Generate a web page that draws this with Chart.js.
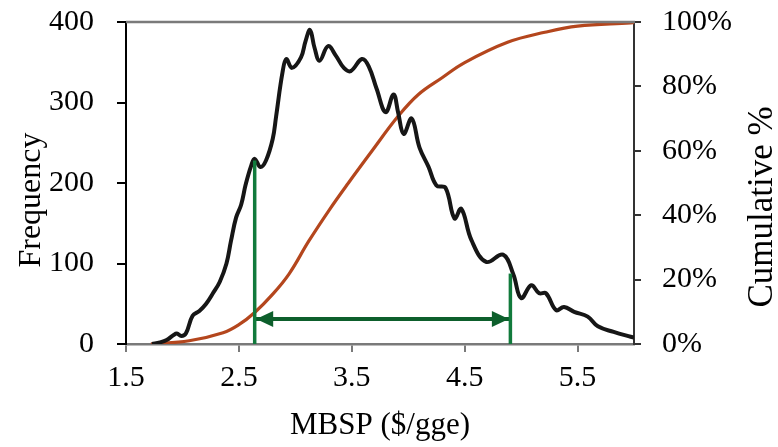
<!DOCTYPE html>
<html><head><meta charset="utf-8">
<script src="https://cdn.jsdelivr.net/npm/chart.js@4/dist/chart.umd.min.js"></script>
<style>html,body{margin:0;padding:0;background:#fff}#wrap{width:778px;height:447px;position:relative}</style>
</head><body><div id="wrap"><canvas id="c" width="778" height="447"></canvas></div>
<script>
// ---- data ----
const xTickValues = [1.5, 2.5, 3.5, 4.5, 5.5];
const freqX = [1.73,1.80,1.86,1.92,1.95,1.99,2.03,2.09,2.15,2.21,2.27,2.33,2.39,2.43,2.475,2.52,2.56,2.61,2.64,2.69,2.74,2.80,2.83,2.886,2.92,2.97,3.05,3.09,3.13,3.17,3.215,3.29,3.36,3.43,3.49,3.59,3.65,3.72,3.80,3.87,3.91,3.96,4.03,4.10,4.18,4.25,4.33,4.41,4.47,4.56,4.69,4.84,4.93,5.00,5.09,5.16,5.22,5.31,5.38,5.47,5.59,5.68,5.82,5.97,6.0];
const freqY = [0,2,5,11,13,10,13,35,41,50,63,77,100,128,157,173,198,222,230,220,228,255,283,337,354,343,356,376,390,368,352,370,358,343,339,354,345,317,288,310,288,261,280,244,220,197,194,156,168,129,102,111,87,57,73,63,63,42,46,40,34,22,15,9,8];
const cumX = [1.72,2.06,2.36,2.50,2.64,2.80,2.945,3.12,3.30,3.47,3.68,3.91,4.09,4.30,4.50,4.88,5.21,5.50,5.97,6.0];
const cumY = [0,1,3.5,6,9.8,15.5,21.8,32,41.6,50,60,70.7,77.5,82.7,87.4,93.7,96.8,98.7,99.7,99.8];
const lowerBound = 2.64, upperBound = 4.905;
const lowerHeight = 228, upperHeight = 87.5;
const arrowLevel = 31;
const xTitle = 'MBSP ($/gge)', yTitle = 'Frequency', y1Title = 'Cumulative %';

const SERIF = "'Liberation Serif', 'Times New Roman', serif";
const toPts = (xs, ys) => xs.map((x, i) => ({x, y: ys[i]}));

const extras = {
  id: 'extras',
  afterDatasetsDraw(chart) {
    const {ctx, chartArea: a} = chart;
    ctx.save();
    // top frame
    ctx.strokeStyle = '#7a7a7a'; ctx.lineWidth = 2.5;
    ctx.beginPath(); ctx.moveTo(a.left, a.top); ctx.lineTo(a.right + 1, a.top); ctx.stroke();
    // arrowheads on the interval arrow
    const pts = chart.getDatasetMeta(3).data;
    const p0 = pts[0], p1 = pts[pts.length - 1];
    ctx.fillStyle = '#0d5f2c';
    const L = 17, H = 8;
    ctx.beginPath();
    ctx.moveTo(p0.x + 1.5, p0.y); ctx.lineTo(p0.x + 1.5 + L, p0.y - H); ctx.lineTo(p0.x + 1.5 + L, p0.y + H); ctx.closePath(); ctx.fill();
    ctx.beginPath();
    ctx.moveTo(p1.x - 1.5, p1.y); ctx.lineTo(p1.x - 1.5 - L, p1.y - H); ctx.lineTo(p1.x - 1.5 - L, p1.y + H); ctx.closePath(); ctx.fill();
    // rotated y titles
    ctx.fillStyle = '#000';
    ctx.textAlign = 'center'; ctx.textBaseline = 'middle';
    ctx.font = '32px ' + SERIF;
    ctx.save(); ctx.translate(32, 200); ctx.rotate(-Math.PI / 2); ctx.fillText(yTitle, 0, 0); ctx.restore();
    ctx.font = '35px ' + SERIF;
    ctx.save(); ctx.translate(763, 207); ctx.rotate(-Math.PI / 2); ctx.fillText(y1Title, 0, 0); ctx.restore();
    ctx.restore();
  }
};

const noVPad = s => { s.paddingTop = 0; s.paddingBottom = 0; };

new Chart(document.getElementById('c'), {
  type: 'line',
  data: {
    datasets: [
      {label: 'lower', data: [{x: lowerBound, y: 0}, {x: lowerBound, y: lowerHeight}], borderColor: '#117a3c', borderWidth: 3.5, pointRadius: 0, yAxisID: 'y', order: 0},
      {label: 'upper', data: [{x: upperBound, y: 0}, {x: upperBound, y: upperHeight}], borderColor: '#117a3c', borderWidth: 3.5, pointRadius: 0, yAxisID: 'y', order: 0},
      {label: 'Frequency', data: toPts(freqX, freqY), borderColor: '#161616', borderWidth: 4, pointRadius: 0, tension: 0.4, yAxisID: 'y', order: 2},
      {label: 'interval', data: [{x: lowerBound, y: arrowLevel}, {x: upperBound, y: arrowLevel}], borderColor: '#0d5f2c', borderWidth: 4, pointRadius: 0, yAxisID: 'y', order: 1},
      {label: 'Cumulative', data: toPts(cumX, cumY), borderColor: '#b4461d', borderWidth: 3.2, pointRadius: 0, tension: 0.4, yAxisID: 'y1', order: 3}
    ]
  },
  options: {
    responsive: false,
    animation: false,
    layout: {padding: {top: 22, left: 0, right: 0, bottom: 0}},
    plugins: {legend: {display: false}, tooltip: {enabled: false}},
    scales: {
      x: {
        type: 'linear', min: 1.5, max: 6,
        afterBuildTicks: s => { s.ticks = xTickValues.map(v => ({value: v})); },
        afterFit: s => { s.height = 103; s.paddingLeft = 0; s.paddingRight = 0; },
        grid: {drawOnChartArea: false, drawTicks: true, tickLength: 8, color: '#7a7a7a', lineWidth: 2},
        border: {display: true, color: '#7a7a7a', width: 2.5},
        ticks: {color: '#000', font: {family: SERIF, size: 30}, padding: 8, maxRotation: 0, callback: v => v.toFixed(1)},
        title: {display: true, text: xTitle, color: '#000', font: {family: SERIF, size: 31, lineHeight: 1}, padding: {top: 0, bottom: 6}}
      },
      y: {
        position: 'left', min: 0, max: 400,
        afterFit: s => { s.width = 126; noVPad(s); },
        grid: {drawOnChartArea: false, tickLength: 9, color: '#000', lineWidth: 2},
        border: {display: true, color: '#000', width: 2},
        ticks: {stepSize: 100, color: '#000', font: {family: SERIF, size: 30}, padding: 23}
      },
      y1: {
        position: 'right', min: 0, max: 100,
        afterFit: s => { s.width = 144; noVPad(s); },
        grid: {drawOnChartArea: false, tickLength: 7, color: '#333', lineWidth: 2},
        border: {display: true, color: '#333', width: 2},
        ticks: {stepSize: 20, color: '#000', font: {family: SERIF, size: 30}, padding: 21, callback: v => v + '%'}
      }
    }
  },
  plugins: [extras]
});
</script></body></html>
